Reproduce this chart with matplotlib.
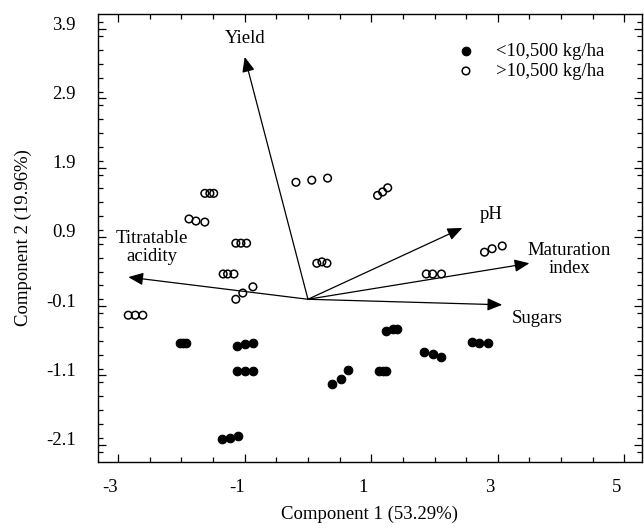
import matplotlib
matplotlib.use("Agg")
import matplotlib.pyplot as plt
import matplotlib.transforms as mtransforms
from matplotlib.ticker import MultipleLocator
import numpy as np

plt.rcParams['font.family'] = ['Liberation Serif', 'DejaVu Serif']
plt.rcParams['font.size'] = 13

# scores, yield > 10,500 kg/ha (open circles)
high_pc1 = [-1.63, -1.55, -1.49, -1.88, -1.77, -1.63, -1.14, -1.06, -0.97,
            -1.34, -1.27, -1.17, -1.14, -1.03, -0.87, -2.84, -2.73, -2.61,
            -0.19, 0.06, 0.31, 1.10, 1.18, 1.26, 0.14, 0.22, 0.30,
            1.87, 1.97, 2.11, 2.79, 2.91, 3.07]
high_pc2 = [1.53, 1.53, 1.53, 1.16, 1.13, 1.115, 0.81, 0.81, 0.81,
            0.365, 0.365, 0.365, 0.00, 0.09, 0.18, -0.23, -0.23, -0.23,
            1.69, 1.72, 1.75, 1.50, 1.55, 1.61, 0.52, 0.54, 0.52,
            0.365, 0.365, 0.365, 0.68, 0.73, 0.77]

# scores, yield < 10,500 kg/ha (filled circles)
low_pc1 = [-2.03, -1.98, -1.92, -1.12, -1.00, -0.87, -1.12, -1.00, -0.87,
           -1.36, -1.23, -1.11, 0.375, 0.52, 0.63, 1.12, 1.18, 1.24,
           1.24, 1.34, 1.40, 1.84, 1.97, 2.11, 2.60, 2.71, 2.84]
low_pc2 = [-0.63, -0.63, -0.63, -0.67, -0.645, -0.63, -1.035, -1.035, -1.035,
           -2.02, -2.00, -1.97, -1.22, -1.15, -1.02, -1.035, -1.035, -1.035,
           -0.46, -0.43, -0.43, -0.76, -0.79, -0.83, -0.62, -0.63, -0.63]

# variable loadings (arrow tips) and their labels
var_names = ['Yield', 'Titratable\nacidity', 'pH', 'Maturation\nindex', 'Sugars']
var_pc1 = [-1.0, -2.84, 2.44, 3.5, 3.07]
var_pc2 = [3.5, 0.32, 1.03, 0.52, -0.08]
label_pc1 = [-1.0, -2.47, 2.9, 4.13, 3.62]
label_pc2 = [3.77, 0.75, 1.22, 0.57, -0.28]

fig = plt.figure(figsize=(6.44, 5.29), dpi=100)
ax = fig.add_axes([0.152, 0.1267, 0.845, 0.8468])

ax.scatter(low_pc1, low_pc2, s=38, c='black', edgecolors='black', linewidths=0.8,
           label='<10,500 kg/ha', zorder=3)
ax.scatter(high_pc1, high_pc2, s=30, facecolors='none', edgecolors='black',
           linewidths=1.1, label='>10,500 kg/ha', zorder=3)

for name, x, y, lx, ly in zip(var_names, var_pc1, var_pc2, label_pc1, label_pc2):
    ax.annotate('', xy=(x, y), xytext=(0, 0),
                arrowprops=dict(arrowstyle='-|>,head_length=0.9,head_width=0.38',
                                mutation_scale=10, color='black', lw=0.9,
                                shrinkA=0, shrinkB=0))
    ax.text(lx, ly, name, ha='center', va='center', fontsize=13.5,
            linespacing=1.1)

ax.set_xlim(-3.32, 5.28)
ax.set_ylim(-2.35, 4.12)
ax.set_xticks([-3, -1, 1, 3, 5])
ax.set_yticks([-2.1, -1.1, -0.1, 0.9, 1.9, 2.9, 3.9])
ax.set_yticklabels(['-2.1', '-1.1', '-0.1', '0.9', '1.9', '2.9', '3.9'])
ax.set_xticklabels(['-3', '-1', '1', '3', '5'])
ax.xaxis.set_minor_locator(MultipleLocator(0.5))
ax.yaxis.set_minor_locator(MultipleLocator(0.2))
ax.tick_params(which='both', direction='in', top=True, right=True, width=0.9)
ax.tick_params(which='major', length=6)
ax.tick_params(which='minor', length=3.5)
ax.tick_params(axis='x', which='major', pad=12, labelsize=13.5)
ax.tick_params(axis='y', which='major', pad=16, labelsize=13.5)

# scanned original has labels nudged off their ticks
dx = mtransforms.ScaledTranslation(-8 / 100, 0, fig.dpi_scale_trans)
for lab in ax.get_xticklabels():
    lab.set_transform(lab.get_transform() + dx)
dy = mtransforms.ScaledTranslation(0, 6 / 100, fig.dpi_scale_trans)
for lab in ax.get_yticklabels():
    lab.set_transform(lab.get_transform() + dy)

for sp in ax.spines.values():
    sp.set_linewidth(1.0)

ax.set_xlabel('Component 1 (53.29%)', fontsize=13.5, labelpad=7)
ax.set_ylabel('Component 2 (19.96%)', fontsize=13.5, labelpad=10)

ax.legend(loc='upper right', bbox_to_anchor=(0.955, 0.965), frameon=False,
          fontsize=13.5, handletextpad=0.6, labelspacing=0.15, borderpad=0.2,
          scatterpoints=1)

fig.savefig('out.png', dpi=100)
